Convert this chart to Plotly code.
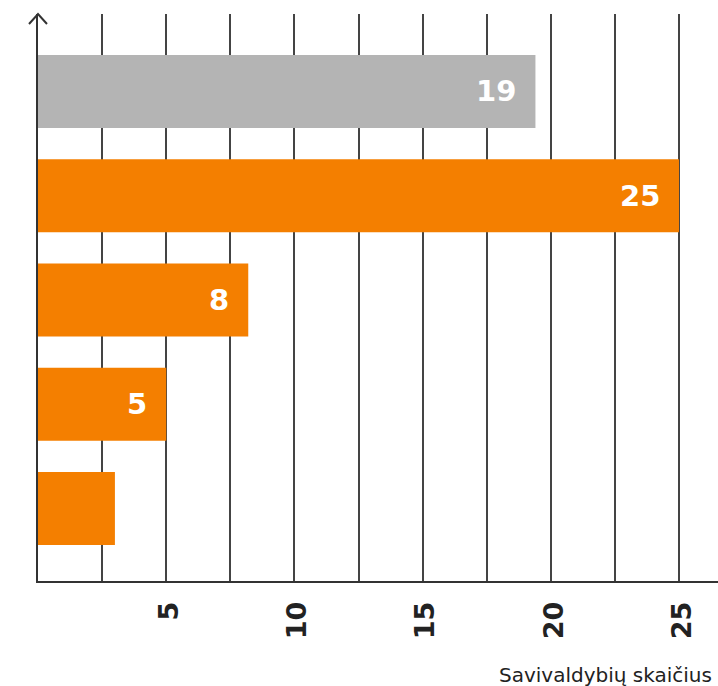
import plotly.graph_objects as go

categories = ["A", "B", "C", "D", "E"]
values = [19.4, 25, 8.2, 5, 3]
labels = ["19", "25", "8", "5", ""]
colors = ["#B4B4B4", "#F47F00", "#F47F00", "#F47F00", "#F47F00"]
tick_vals = [2.5, 5, 7.5, 10, 12.5, 15, 17.5, 20, 22.5, 25]
tick_text = ["", "5", "", "10", "", "15", "", "20", "", "25"]
axis_title = "Savivaldybių skaičius"

fig = go.Figure()
fig.add_trace(go.Bar(
    y=categories, x=values, orientation="h",
    marker=dict(color=colors, line=dict(width=0)),
    width=0.70, hoverinfo="skip",
))

for c, v, t in zip(categories, values, labels):
    if t:
        fig.add_annotation(x=v, y=c, text=t, showarrow=False, xanchor="right",
                           xshift=-17, yshift=0,
                           font=dict(family="DejaVu Sans", size=29, color="white", weight="bold"))

fig.add_annotation(x=1, y=0, xref="paper", yref="paper", xanchor="right", yanchor="middle",
                   yshift=-94, xshift=-4, text=axis_title, showarrow=False,
                   font=dict(family="DejaVu Sans", size=20, color="#222222"))

# arrow head on y axis
fig.add_shape(type="path", xref="paper", yref="paper", xsizemode="pixel", ysizemode="pixel",
              xanchor=0, yanchor=1,
              path="M -9,-10 L 0,0 L 9,-10", line=dict(color="#333333", width=2))

fig.update_layout(
    width=718, height=686,
    margin=dict(l=38, r=0, t=14, b=105),
    plot_bgcolor="white", paper_bgcolor="white",
    showlegend=False,
    xaxis=dict(range=[0, 26.52], tickvals=tick_vals, ticktext=tick_text,
               showgrid=True, gridcolor="#444444", gridwidth=1.6,
               showline=True, linecolor="#333333", linewidth=2,
               zeroline=False, tickangle=-90, automargin=False,
               ticks="outside", ticklen=8, tickcolor="rgba(0,0,0,0)",
               ticklabelshift=3,
               tickfont=dict(family="DejaVu Sans", size=27, color="#222222", weight="bold"),
               layer="below traces"),
    yaxis=dict(range=[4.696, -0.743], showticklabels=False, showgrid=False, automargin=False,
               showline=True, linecolor="#333333", linewidth=2, zeroline=False, ticks=""),
)

fig.write_html("out.html", config={"displayModeBar": False},
               post_script="document.body.style.margin='0';document.body.style.overflow='hidden';")
